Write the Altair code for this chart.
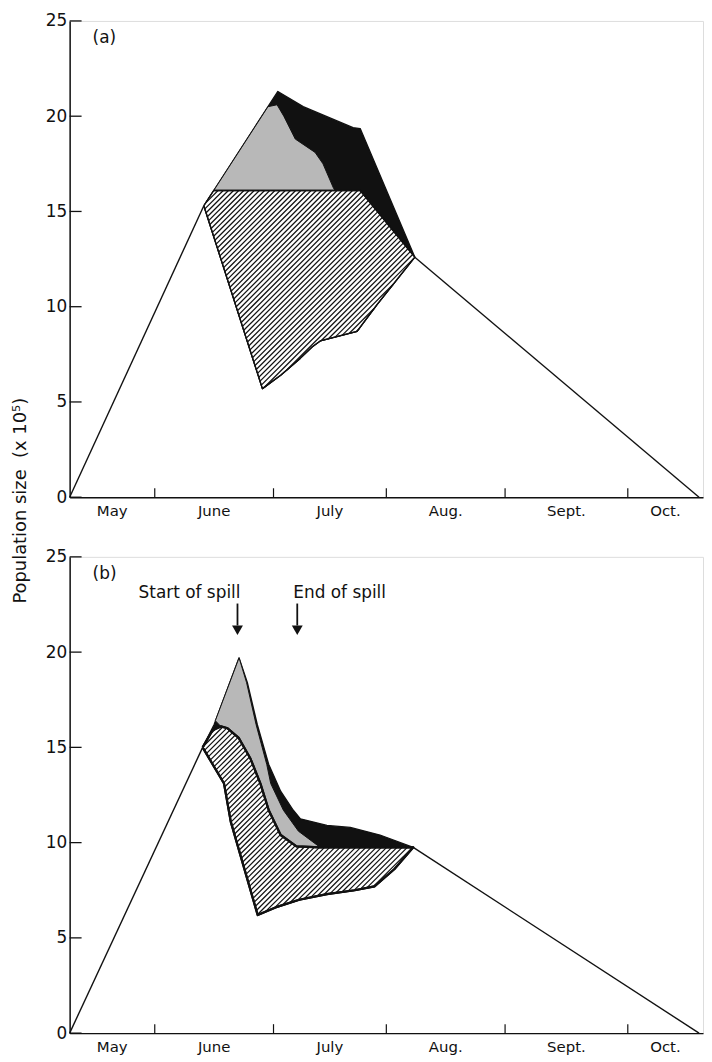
import math
import altair as alt
import pandas as pd

# ---------------- data ----------------
MONTHS = ["May", "June", "July", "Aug.", "Sept.", "Oct."]
MONTH_EDGES = [21.5, 51.5, 80.0, 110.0, 141.0]   # month boundaries on the season axis
SEASON_END = 160.0
Y_TICKS = [0, 5, 10, 15, 20, 25]

# panel (a)
A_RISE_X = [0.0, 33.9]
A_RISE_Y = [0.0, 15.3]
A_FALL_X = [87.2, 159.0]
A_FALL_Y = [12.6, 0.0]
A_OUTER_X = [33.9, 36.4, 52.6, 59.0, 71.6, 73.4, 87.2, 77.6, 72.6, 63.3, 61.3, 58.3, 53.3, 48.7]
A_OUTER_Y = [15.3, 16.1, 21.3, 20.5, 19.4, 19.35, 12.6, 10.1, 8.7, 8.2, 7.9, 7.3, 6.4, 5.7]
A_STIP_X = [36.4, 50.1, 52.4, 54.1, 57.0, 62.0, 64.0, 66.7, 67.1]
A_STIP_Y = [16.1, 20.5, 20.6, 20.0, 18.8, 18.1, 17.5, 16.2, 16.1]
A_HATCH_X = [33.9, 36.4, 73.4, 87.2, 77.6, 72.6, 63.3, 61.3, 58.3, 53.3, 48.7]
A_HATCH_Y = [15.3, 16.1, 16.1, 12.6, 10.1, 8.7, 8.2, 7.9, 7.3, 6.4, 5.7]

# panel (b)
B_RISE_X = [0.0, 33.6]
B_RISE_Y = [0.0, 15.0]
B_FALL_X = [86.8, 159.0]
B_FALL_Y = [9.75, 0.0]
B_OUTER_X = [33.6, 36.5, 42.8, 44.9, 47.4, 50.3, 53.3, 56.5, 58.3, 65.0, 70.9, 78.4, 86.8,
             82.0, 77.0, 72.0, 65.0, 58.0, 52.0, 47.5, 40.7, 39.0]
B_OUTER_Y = [15.0, 16.2, 19.7, 18.4, 16.2, 14.1, 12.7, 11.7, 11.25, 10.9, 10.8, 10.4, 9.75,
             8.6, 7.7, 7.5, 7.3, 7.0, 6.6, 6.2, 11.1, 13.1]
B_STIP_X = [36.8, 42.8, 44.7, 47.1, 49.8, 50.8, 54.0, 57.8, 63.3,
            57.3, 53.3, 50.3, 48.2, 45.7, 42.7, 38.2]
B_STIP_Y = [16.4, 19.7, 18.4, 16.2, 14.1, 13.1, 11.7, 10.6, 9.75,
            9.8, 10.4, 11.7, 13.1, 14.4, 15.5, 16.1]
B_HATCH_X = [33.6, 36.1, 38.2, 39.9, 42.7, 45.7, 48.2, 50.3, 53.3, 57.3, 63.3, 86.8,
             82.0, 77.0, 72.0, 65.0, 58.0, 52.0, 47.5, 40.7, 39.0]
B_HATCH_Y = [15.0, 15.9, 16.1, 16.0, 15.5, 14.4, 13.1, 11.7, 10.4, 9.8, 9.75, 9.75,
             8.6, 7.7, 7.5, 7.3, 7.0, 6.6, 6.2, 11.1, 13.1]

SPILL_X = [42.4, 57.5]
SPILL_TEXT = ["Start of spill", "End of spill"]

# ---------------- layout / style ----------------
W, H = 637, 479
FONT = "DejaVu Sans"
INK = "#111111"
STIPPLE = "#b8b8b8"
LABEL_POS = (5.8, 24.1)
SPILL_TEXT_Y = 23.1
ARROW_TOP, ARROW_BOT, ARROW_HEAD = 22.55, 21.4, 21.15
HATCH_STEP_PX = 5.2

XS = alt.Scale(domain=[0, SEASON_END], nice=False, zero=False)
YS = alt.Scale(domain=[0, 25], nice=False, zero=False)

X_AXIS = alt.Axis(values=[], ticks=False, labels=False, grid=False, domain=True,
                  domainColor=INK, domainWidth=1.5, title=None)


def y_axis(with_title):
    kw = dict(values=Y_TICKS, ticks=False, grid=False, domain=True, domainColor=INK,
              domainWidth=1.5, labelFont=FONT, labelFontSize=17, labelColor=INK,
              labelPadding=3)
    if with_title:
        kw.update(title="Population size \u00a0(x 10\u2075)", titleFont=FONT,
                  titleFontSize=18, titleFontWeight="normal", titleColor=INK,
                  titleX=-49, titleY=482, titleAlign="center", titleBaseline="middle")
    else:
        kw.update(title=None)
    return alt.Axis(**kw)


def hatch_segments(xs, ys, step=HATCH_STEP_PX):
    """45-degree hatch lines clipped to the polygon (a fill style only)."""
    sx, sy = W / SEASON_END, H / 25.0
    pts = [(x * sx, (25.0 - y) * sy) for x, y in zip(xs, ys)]
    cs = [px + py for px, py in pts]
    c = (math.floor(min(cs) / step) + 0.5) * step
    n = len(pts)
    rows = []
    while c < max(cs):
        hits = []
        for k in range(n):
            (x1, y1), (x2, y2) = pts[k], pts[(k + 1) % n]
            f1, f2 = x1 + y1 - c, x2 + y2 - c
            if (f1 < 0) != (f2 < 0):
                t = f1 / (f1 - f2)
                hits.append((x1 + t * (x2 - x1), y1 + t * (y2 - y1)))
        hits.sort()
        for j in range(0, len(hits) - 1, 2):
            a, b = hits[j], hits[j + 1]
            rows.append({"x": a[0] / sx, "y": 25.0 - a[1] / sy,
                         "x2": b[0] / sx, "y2": 25.0 - b[1] / sy})
        c += step
    return pd.DataFrame(rows)


def poly_df(xs, ys):
    n = len(xs)
    return pd.DataFrame({"x": list(xs) + [xs[0]], "y": list(ys) + [ys[0]],
                         "i": list(range(n + 1))})


def line_df(xs, ys):
    return pd.DataFrame({"x": xs, "y": ys, "i": list(range(len(xs)))})


def panel(label, rise, fall, outer, stip, hatch, hatch_w, with_title, spill=False):
    xe = alt.X("x:Q", scale=XS, axis=X_AXIS, title=None)
    ye = alt.Y("y:Q", scale=YS, axis=y_axis(with_title))
    od = alt.Order("i:Q")
    layers = []
    layers.append(alt.Chart(poly_df(*outer)).mark_line(
        fill=INK, stroke=INK, strokeWidth=1.3, strokeJoin="round")
        .encode(x=xe, y=ye, order=od))
    layers.append(alt.Chart(poly_df(*stip)).mark_line(
        fill=STIPPLE, stroke=INK, strokeWidth=1.0, strokeJoin="round")
        .encode(x=xe, y=ye, order=od))
    layers.append(alt.Chart(poly_df(*hatch)).mark_line(
        fill="white", stroke=INK, strokeWidth=hatch_w, strokeJoin="round")
        .encode(x=xe, y=ye, order=od))
    layers.append(alt.Chart(hatch_segments(*hatch)).mark_rule(
        color=INK, strokeWidth=1.25)
        .encode(x=xe, y=ye, x2="x2:Q", y2="y2:Q"))
    layers.append(alt.Chart(poly_df(*hatch)).mark_line(
        stroke=INK, strokeWidth=hatch_w, strokeJoin="round")
        .encode(x=xe, y=ye, order=od))
    for seg in (rise, fall):
        layers.append(alt.Chart(line_df(*seg)).mark_line(color=INK, strokeWidth=1.4)
                      .encode(x=xe, y=ye, order=od))
    # inward month ticks
    layers.append(alt.Chart(pd.DataFrame({"x": MONTH_EDGES})).mark_rule(
        color=INK, strokeWidth=1.2).encode(x=xe, y=alt.value(H), y2=alt.value(H - 9)))
    # inward y ticks
    layers.append(alt.Chart(pd.DataFrame({"y": Y_TICKS})).mark_rule(
        color=INK, strokeWidth=1.3).encode(y=ye, x=alt.value(0), x2=alt.value(12)))
    # month labels centred between boundaries
    edges = [0.0] + MONTH_EDGES + [SEASON_END]
    mids = [(edges[k] + edges[k + 1]) / 2 for k in range(len(MONTHS))]
    layers.append(alt.Chart(pd.DataFrame({"x": mids, "m": MONTHS})).mark_text(
        font=FONT, fontSize=15, color=INK, baseline="top")
        .encode(x=xe, y=alt.value(H + 7), text="m:N"))
    # panel label
    layers.append(alt.Chart(pd.DataFrame({"t": [label]})).mark_text(
        font=FONT, fontSize=17, color=INK, align="left", baseline="middle")
        .encode(x=alt.datum(LABEL_POS[0]), y=alt.datum(LABEL_POS[1]), text="t:N"))
    if spill:
        sd = pd.DataFrame({"x": SPILL_X, "t": SPILL_TEXT})
        layers.append(alt.Chart(sd.iloc[[0]]).mark_text(
            font=FONT, fontSize=17, color=INK, align="right", baseline="middle", dx=3)
            .encode(x=xe, y=alt.datum(SPILL_TEXT_Y), text="t:N"))
        layers.append(alt.Chart(sd.iloc[[1]]).mark_text(
            font=FONT, fontSize=17, color=INK, align="left", baseline="middle", dx=-4)
            .encode(x=xe, y=alt.datum(SPILL_TEXT_Y), text="t:N"))
        layers.append(alt.Chart(sd).mark_rule(color=INK, strokeWidth=1.8)
                      .encode(x=xe, y=alt.datum(ARROW_TOP), y2=alt.datum(ARROW_BOT)))
        layers.append(alt.Chart(sd).mark_point(shape="triangle-down", filled=True,
                                               size=120, color=INK, opacity=1)
                      .encode(x=xe, y=alt.datum(ARROW_HEAD)))
    return alt.layer(*layers).properties(width=W, height=H)


pa = panel("(a)", (A_RISE_X, A_RISE_Y), (A_FALL_X, A_FALL_Y), (A_OUTER_X, A_OUTER_Y),
           (A_STIP_X, A_STIP_Y), (A_HATCH_X, A_HATCH_Y), 1.3, True)
pb = panel("(b)", (B_RISE_X, B_RISE_Y), (B_FALL_X, B_FALL_Y), (B_OUTER_X, B_OUTER_Y),
           (B_STIP_X, B_STIP_Y), (B_HATCH_X, B_HATCH_Y), 2.2, False, spill=True)

chart = alt.vconcat(pa, pb, spacing=60, bounds="flush").properties(
    padding={"left": 3, "top": 0, "right": 0, "bottom": 0}
).configure_view(stroke=None).configure(background="white")

chart.save("out.html", embed_options={"renderer": "svg", "actions": False})
